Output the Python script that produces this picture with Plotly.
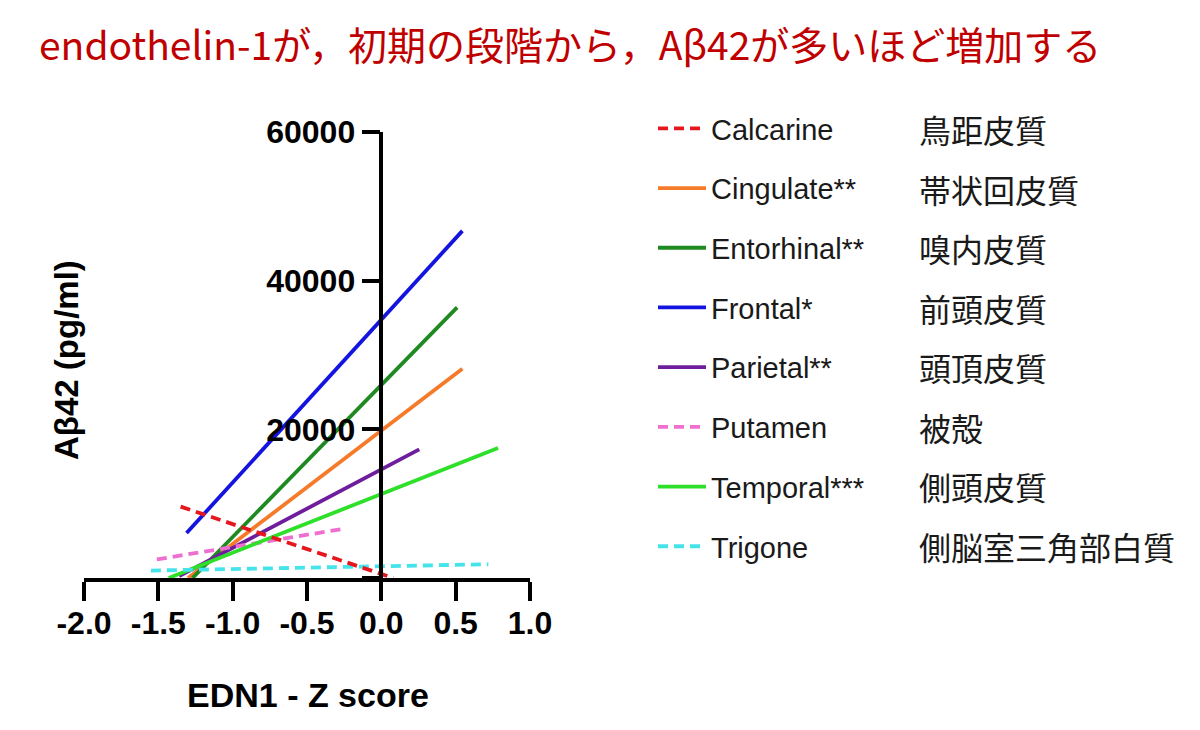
import plotly.graph_objects as go

# ---- data ----
regions = ["Calcarine", "Cingulate**", "Entorhinal**", "Frontal*",
           "Parietal**", "Putamen", "Temporal***", "Trigone"]
jp_labels = ["鳥距皮質", "帯状回皮質", "嗅内皮質", "前頭皮質",
             "頭頂皮質", "被殻", "側頭皮質", "側脳室三角部白質"]
x_start = [-1.35, -1.30, -1.27, -1.31, -1.36, -1.51, -1.43, -1.55]
x_end = [0.08, 0.545, 0.51, 0.545, 0.255, -0.275, 0.785, 0.72]
y_start = [9600, 0, 0, 6050, 250, 2500, 0, 1000]
y_end = [0, 28150, 36400, 46700, 17300, 6550, 17500, 1850]
colors = ["#E5161E", "#F57A2A", "#1F8A22", "#1414E0",
          "#6E1E9C", "#EE6FCF", "#2EE02A", "#45E3EA"]
dashed = [True, False, False, False, False, True, False, True]

x_ticks = [-2.0, -1.5, -1.0, -0.5, 0.0, 0.5, 1.0]
y_ticks = [0, 20000, 40000, 60000]
y_ticklabels = ["", "20000", "40000", "60000"]

title_text = "endothelin-1が，初期の段階から，Aβ42が多いほど増加する"
x_title = "EDN1 - Z score"
y_title = "Aβ42 (pg/ml)"

# ---- layout geometry (target screenshot pixels; page body has 8px margin) ----
OFF = 8
W, H = 1200 - OFF, 730 - OFF
L, R, T, B = 84, 530, 132, 578
pw, ph = R - L, B - T


def px_x(p):
    return (p - L) / pw


def px_y(p):
    return (B - p) / ph


fig = go.Figure()

draw_order = [1, 2, 3, 4, 5, 6, 7, 0]
for i in draw_order:
    fig.add_trace(go.Scatter(
        x=[x_start[i], x_end[i]],
        y=[y_start[i], y_end[i]],
        mode="lines",
        name=regions[i],
        legendgroup=regions[i],
        legendrank=i + 1,
        line=dict(color=colors[i], width=3.8,
                  dash="10px,6px" if dashed[i] else "solid"),
        hoverinfo="skip",
    ))

tick_font = dict(family="Liberation Sans, Arial, sans-serif", size=32,
                 color="black", weight="bold")

fig.update_layout(
    width=W, height=H,
    margin=dict(l=L - OFF, r=1200 - R, t=T - OFF, b=730 - B, pad=0),
    paper_bgcolor="white", plot_bgcolor="white",
    showlegend=True,
    legend=dict(
        x=px_x(653), y=px_y(103), xanchor="left", yanchor="top",
        font=dict(family="Liberation Sans, Arial, sans-serif", size=29,
                  color="#1a1a1a"),
        tracegroupgap=19, itemwidth=48, maxheight=700,
        bgcolor="rgba(0,0,0,0)",
    ),
    xaxis=dict(
        range=[-2, 1], tickvals=x_ticks,
        ticktext=[f"{v:.1f}" for v in x_ticks],
        showgrid=False, zeroline=False,
        showline=True, linecolor="black", linewidth=3.5,
        ticks="outside", ticklen=19, tickwidth=3.5, tickcolor="black",
        tickfont=tick_font, ticklabelstandoff=-5,
    ),
    yaxis=dict(
        range=[0, 60000], tickvals=y_ticks, ticktext=y_ticklabels,
        anchor="free", position=2 / 3,
        showgrid=False, zeroline=False,
        showline=True, linecolor="black", linewidth=3.5,
        ticks="outside", ticklen=18, tickwidth=3.5, tickcolor="black",
        tickfont=tick_font,
    ),
)

annotations = [
    dict(text=title_text, x=px_x(37), y=px_y(43), xref="paper", yref="paper",
         xanchor="left", yanchor="middle", showarrow=False,
         font=dict(family="Noto Sans CJK JP", size=39, color="#C00000")),
    dict(text=x_title, x=px_x(308), y=px_y(695), xref="paper", yref="paper",
         xanchor="center", yanchor="middle", showarrow=False,
         font=dict(family="Liberation Sans, Arial, sans-serif", size=34,
                   color="black", weight="bold")),
    dict(text=y_title, x=px_x(66), y=px_y(360), xref="paper", yref="paper",
         xanchor="center", yanchor="middle", showarrow=False, textangle=-90,
         font=dict(family="Liberation Sans, Arial, sans-serif", size=33,
                   color="black", weight="bold")),
]
row_y = [129, 188.5, 248, 307.5, 367, 426.5, 486, 545.5]
for lab, yy in zip(jp_labels, row_y):
    annotations.append(dict(
        text=lab, x=px_x(917), y=px_y(yy), xref="paper", yref="paper",
        xanchor="left", yanchor="middle", showarrow=False,
        font=dict(family="Noto Sans CJK JP", size=32, color="#1a1a1a")))
fig.update_layout(annotations=annotations)

fig.write_html("out.html")
